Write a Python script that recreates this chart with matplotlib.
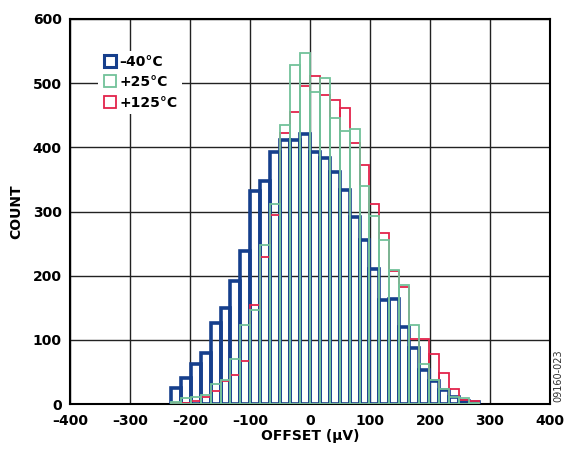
import matplotlib
matplotlib.use('Agg')
import matplotlib.pyplot as plt
import numpy as np
from matplotlib.lines import Line2D

# bin layout: 31 bins, edge at 0 uV
bin_w = 16.55
bin_idx = np.arange(-14, 17)

# counts per bin
cnt_m40 = [25, 41, 63, 79, 127, 150, 192, 238, 332, 348, 393, 411, 412, 420, 392,
           384, 361, 333, 292, 255, 211, 162, 163, 120, 87, 53, 36, 22, 11, 5, 4]
cnt_p25 = [3, 9, 11, 14, 32, 38, 70, 123, 146, 248, 312, 434, 528, 547, 486,
           508, 446, 426, 429, 340, 293, 255, 209, 186, 123, 62, 37, 24, 11, 9, 2]
cnt_p125 = [1, 2, 5, 11, 20, 36, 46, 67, 155, 229, 295, 422, 455, 495, 511,
            481, 473, 461, 406, 372, 311, 267, 207, 183, 101, 101, 78, 48, 23, 7, 5]

labels = ['\u201340°C', '+25°C', '+125°C']
colors = ['#163f8c', '#72c29a', '#e3234b']

xticks = [-400, -300, -200, -100, 0, 100, 200, 300, 400]
yticks = [0, 100, 200, 300, 400, 500, 600]

fig = plt.figure(figsize=(5.64, 4.5), dpi=100)
ax = fig.add_axes([0.124, 0.102, 0.851, 0.856])

left = bin_idx * bin_w
ax.bar(left, cnt_m40, width=bin_w, align='edge', fill=False,
       edgecolor=colors[0], linewidth=2.6, zorder=3)
ax.bar(left, cnt_p125, width=bin_w, align='edge', fill=False,
       edgecolor=colors[2], linewidth=1.3, zorder=4)
ax.bar(left, cnt_p25, width=bin_w, align='edge', fill=False,
       edgecolor=colors[1], linewidth=1.3, zorder=5)

ax.set_xlim(-400, 400)
ax.set_ylim(0, 600)
ax.set_xticks(xticks)
ax.set_xticklabels([str(v).replace('-', '\u2013') for v in xticks],
                   fontweight='bold', fontsize=10)
ax.set_yticks(yticks)
ax.set_yticklabels([str(v) for v in yticks], fontweight='bold', fontsize=10)
ax.tick_params(axis='x', length=0, pad=7)
ax.tick_params(axis='y', length=0, pad=6)
ax.grid(True, color='#222222', linewidth=1.0, zorder=0)
ax.set_axisbelow(True)
for s in ax.spines.values():
    s.set_linewidth(1.5)
    s.set_color('black')

ax.set_xlabel('OFFSET (µV)', fontweight='bold', fontsize=10, labelpad=1)
ax.set_ylabel('COUNT', fontweight='bold', fontsize=10, labelpad=7)

handles = [Line2D([], [], marker='s', linestyle='none', markerfacecolor='none',
                  markeredgecolor=c, markersize=9, markeredgewidth=2.2 if i == 0 else 1.3)
           for i, c in enumerate(colors)]
leg = ax.legend(handles, labels, loc='upper left', bbox_to_anchor=(0.045, 0.935),
                frameon=True, fancybox=False, framealpha=1, edgecolor='none',
                prop={'weight': 'bold', 'size': 10}, handletextpad=0.2,
                labelspacing=0.45, borderpad=0.3, handlelength=1.0)
leg.set_zorder(10)

fig.text(0.99, 0.165, '09160-023', rotation=90, fontsize=7, color='#333333',
         ha='center', va='center')

fig.savefig('out.png', dpi=100)
